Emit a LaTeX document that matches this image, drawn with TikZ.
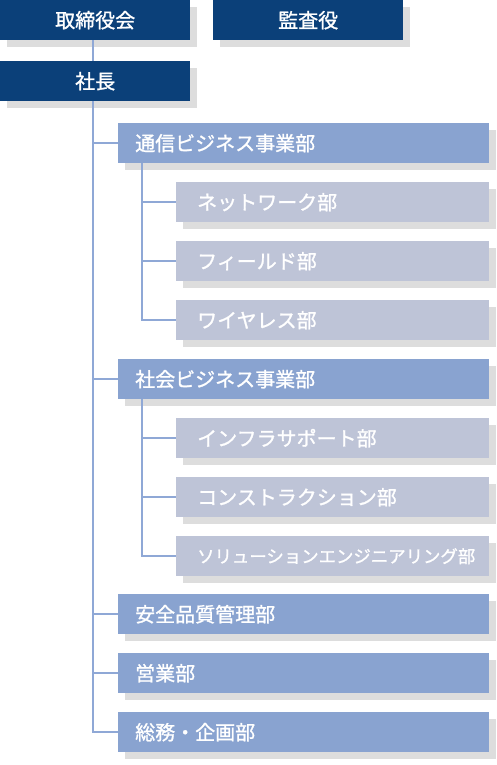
\documentclass[tikz,border=0pt]{standalone}
\usepackage{fontspec}
\setmainfont{Noto Sans CJK JP}[FakeBold=1.2]
\definecolor{navy}{HTML}{0B4079}
\definecolor{midblue}{HTML}{89A3D0}
\definecolor{lightblue}{HTML}{BEC4D7}
\definecolor{shadowgray}{HTML}{DDDDDD}
\definecolor{linecol}{HTML}{8FA8D6}
\tikzset{
  shbox/.style={rectangle, inner ysep=0pt, minimum height=40pt, text=white,
    font=\fontsize{20pt}{24pt}\selectfont,
    preaction={fill=shadowgray, transform canvas={shift={(7pt,-7pt)}}}},
  topbox/.style={shbox, fill=navy, minimum width=190pt, anchor=north west},
  mainbox/.style={shbox, fill=midblue, text width=337pt, inner xsep=17pt, align=left, anchor=north west},
  subbox/.style={shbox, fill=lightblue, text width=271pt, inner xsep=21pt, align=left, anchor=north west},
  conn/.style={draw=linecol, line width=1.5pt}
}
\begin{document}
\begin{tikzpicture}[x=1pt,y=-1pt]
\useasboundingbox (0,0) rectangle (496,765);
\node[topbox] (board) at (0,0) {取締役会};
\node[topbox] (audit) at (213,0) {監査役};
\node[topbox] (pres) at (0,61) {社長};

\node[mainbox] (tsu) at (118,123) {通信ビジネス事業部};
\node[subbox] (net) at (176,182) {ネットワーク部};
\node[subbox] (fld) at (176,241) {フィールド部};
\node[subbox] (wls) at (176,300) {ワイヤレス部};

\node[mainbox] (sha) at (118,359) {社会ビジネス事業部};
\node[subbox] (inf) at (176,418) {インフラサポート部};
\node[subbox] (con) at (176,477) {コンストラクション部};
\node[subbox] (sol) at (176,536) {\fontsize{17.4pt}{24pt}\selectfont ソリューションエンジニアリング部};

\node[mainbox] (anz) at (118,594) {安全品質管理部};
\node[mainbox] (eig) at (118,653) {営業部};
\node[mainbox] (som) at (118,712) {総務・企画部};

\coordinate (trunk) at (93,0);
\coordinate (b1) at (142,0);
\coordinate (b2) at (142,0);

% main trunk
\draw[conn] (board.south -| trunk) -- (pres.north -| trunk);
\draw[conn] (pres.south -| trunk) |- (som.west);
\foreach \n in {tsu,sha,anz,eig}
  \draw[conn] (\n.west -| trunk) -- (\n.west);
% branch 1
\draw[conn] (tsu.south -| b1) |- (wls.west);
\foreach \n in {net,fld}
  \draw[conn] (\n.west -| b1) -- (\n.west);
% branch 2
\draw[conn] (sha.south -| b2) |- (sol.west);
\foreach \n in {inf,con}
  \draw[conn] (\n.west -| b2) -- (\n.west);
\end{tikzpicture}
\end{document}
